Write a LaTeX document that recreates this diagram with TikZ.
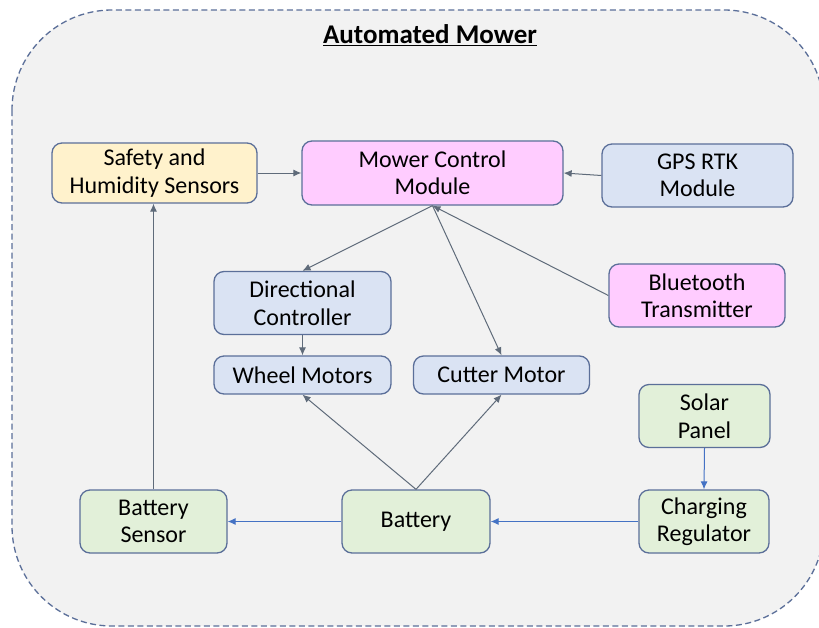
\documentclass[tikz,border=0pt]{standalone}
\usepackage{fontspec}
\setmainfont{Carlito}
\usetikzlibrary{arrows.meta,calc}
\definecolor{bordc}{HTML}{5B6F99}
\definecolor{arrc}{HTML}{5F6B7A}
\definecolor{bluec}{HTML}{4472C4}
\definecolor{yelc}{HTML}{FFF2CC}
\definecolor{pinkc}{HTML}{FFCCFF}
\definecolor{bluef}{HTML}{DAE3F3}
\definecolor{greenf}{HTML}{E2F0D9}
\definecolor{bgc}{HTML}{F2F2F2}
\begin{document}
\begin{tikzpicture}[x=1pt,y=-1pt,
  box/.style={draw=bordc, line width=1.3pt, rounded corners=10pt, align=center,
    inner sep=0pt, font=\fontsize{24}{27.5}\selectfont},
  garr/.style={draw=arrc, line width=1pt, -{Latex[length=8pt,width=7pt]}},
  barr/.style={draw=bluec, line width=1pt, -{Latex[length=8pt,width=7pt]}}]
\useasboundingbox (0,0) rectangle (819,627);
\fill[white] (0,0) rectangle (819,627);
\begin{scope}
\clip (0,0) rectangle (819,627);
\draw[draw=bordc, fill=bgc, line width=1.3pt, dash pattern=on 6pt off 3.5pt, rounded corners=100pt]
  (12,10) rectangle (824,626);
\end{scope}
\node[font=\fontsize{27}{30}\selectfont\bfseries] (title) at (430,35) {\underline{Automated Mower}};

\node[box, fill=yelc, minimum width=205pt, minimum height=60pt] (safety) at (154.5,173) {Safety and\\Humidity Sensors};
\node[box, fill=pinkc, minimum width=261pt, minimum height=64pt] (mcm) at (432.5,173) {Mower Control\\Module};
\node[box, fill=bluef, minimum width=191pt, minimum height=63pt] (gps) at (697.5,175.5) {GPS RTK\\Module};
\node[box, fill=bluef, minimum width=177pt, minimum height=63pt] (dir) at (302.5,303) {Directional\\Controller};
\node[box, fill=pinkc, minimum width=176pt, minimum height=63pt] (bt) at (697,295.5) {Bluetooth\\Transmitter};
\node[box, fill=bluef, minimum width=177pt, minimum height=38pt] (wheel) at (302.5,375) {Wheel Motors};
\node[box, fill=bluef, minimum width=176pt, minimum height=38pt] (cutter) at (501.5,375) {Cutter Motor};
\node[box, fill=greenf, minimum width=131pt, minimum height=63pt] (solar) at (704.5,416) {Solar\\Panel};
\node[box, fill=greenf, minimum width=147pt, minimum height=63pt] (bsens) at (153.5,521.5) {Battery\\Sensor};
\node[box, fill=greenf, minimum width=148pt, minimum height=63pt] (batt) at (416,521.5) {Battery};
\node[box, fill=greenf, minimum width=130pt, minimum height=63pt] (charge) at (704,521.5) {Charging\\Regulator};

\draw[garr] (safety.east) -- (mcm.east -| mcm.west);
\draw[garr] (gps.west) -- (mcm.east);
\draw[garr] (mcm.south) -- (dir.north);
\draw[garr] (mcm.south) -- (cutter.north);
\draw[garr] (bt.west) -- (mcm.south);
\draw[garr] (dir.south) -- (wheel.north);
\draw[garr] (batt.north) -- (wheel.south);
\draw[garr] (batt.north) -- (cutter.south);
\draw[garr] (bsens.north) -- (bsens.north |- safety.south);
\draw[barr] (batt.west) -- (bsens.east);
\draw[barr] (charge.west) -- (batt.east);
\draw[barr] (solar.south) -- (charge.north);
\end{tikzpicture}
\end{document}
